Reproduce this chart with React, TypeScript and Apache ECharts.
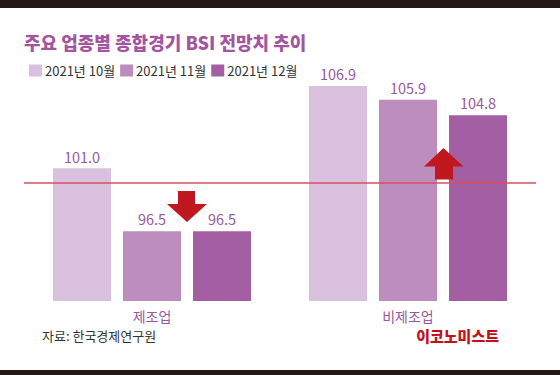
import React, { useEffect, useRef } from "react";
import * as echarts from "echarts";

const categories = ["제조업", "비제조업"];
const seriesNames = ["2021년 10월", "2021년 11월", "2021년 12월"];
const oct = [101.0, 106.9];
const nov = [96.5, 105.9];
const dec = [96.5, 104.8];
const baseline = 100;
const colors = ["#d9c0de", "#bd8dbd", "#a45fa3"];

const FONT = "'Noto Sans CJK KR', 'Noto Sans', sans-serif";

export default function App() {
  const ref = useRef<HTMLDivElement>(null);
  useEffect(() => {
    document.body.style.margin = "0";
    const chart = echarts.init(ref.current!, undefined, { renderer: "svg" });
    const values = [oct, nov, dec];
    const series: any[] = values.map((v, i) => ({
      name: seriesNames[i],
      type: "bar",
      data: v,
      barWidth: 58,
      barGap: "20.7%",
      itemStyle: { color: colors[i] },
      label: {
        show: true,
        position: "top",
        distance: 5,
        color: "#9a58a0",
        fontSize: 14.5,
        fontFamily: FONT,
        formatter: (p: any) => Number(p.value).toFixed(1),
      },
      ...(i === 0
        ? {
            markLine: {
              silent: true,
              symbol: "none",
              label: { show: false },
              lineStyle: { color: "#d6515c", width: 1.5, type: "solid" },
              data: [{ yAxis: baseline }],
              z: 10,
            },
          }
        : {}),
    }));

    chart.setOption({
      animation: false,
      backgroundColor: "#ffffff",
      grid: { left: 24, right: 24, top: 84.5, bottom: 74 },
      legend: {
        left: 24,
        top: 59,
        icon: "rect",
        itemWidth: 13,
        itemHeight: 12,
        itemGap: 5,
        data: seriesNames,
        textStyle: { color: "#333333", fontSize: 13, fontFamily: FONT, padding: [0, 0, 0, -2] },
      },
      xAxis: {
        type: "category",
        data: categories,
        axisLine: { show: false },
        axisTick: { show: false },
        axisLabel: { color: "#9a58a0", fontSize: 14, fontFamily: FONT, margin: 8 },
      },
      yAxis: { type: "value", min: 91.5, max: 107, show: false },
      series,
      graphic: [
        { type: "rect", shape: { x: 0, y: 0, width: 560, height: 8 }, style: { fill: "#231815" } },
        { type: "rect", shape: { x: 0, y: 370, width: 560, height: 5 }, style: { fill: "#231815" } },
        {
          type: "text",
          x: 24,
          y: 42,
          style: {
            text: "주요 업종별 종합경기 BSI 전망치 추이",
            fill: "#a4559f",
            font: `900 18px ${FONT}`,
            textVerticalAlign: "middle",
          },
        },
        {
          type: "text",
          x: 42,
          y: 335,
          style: { text: "자료: 한국경제연구원", fill: "#333333", font: `13px ${FONT}`, textVerticalAlign: "middle" },
        },
        {
          type: "text",
          x: 499,
          y: 335,
          style: {
            text: "이코노미스트",
            fill: "#c3111b",
            font: `900 15px ${FONT}`,
            textAlign: "right",
            textVerticalAlign: "middle",
          },
        },
        {
          type: "polygon",
          z: 20,
          shape: {
            points: [
              [178, 191], [195, 191], [195, 204], [207, 204], [187, 222], [167, 204], [178, 204],
            ],
          },
          style: { fill: "#c0181f" },
        },
        {
          type: "polygon",
          z: 20,
          shape: {
            points: [
              [443.5, 148], [463.5, 166.5], [453, 166.5], [453, 179.5], [435, 179.5], [435, 166.5], [424, 166.5],
            ],
          },
          style: { fill: "#c0181f" },
        },
      ],
    });
    return () => chart.dispose();
  }, []);
  return <div ref={ref} style={{ width: 560, height: 375 }} />;
}
